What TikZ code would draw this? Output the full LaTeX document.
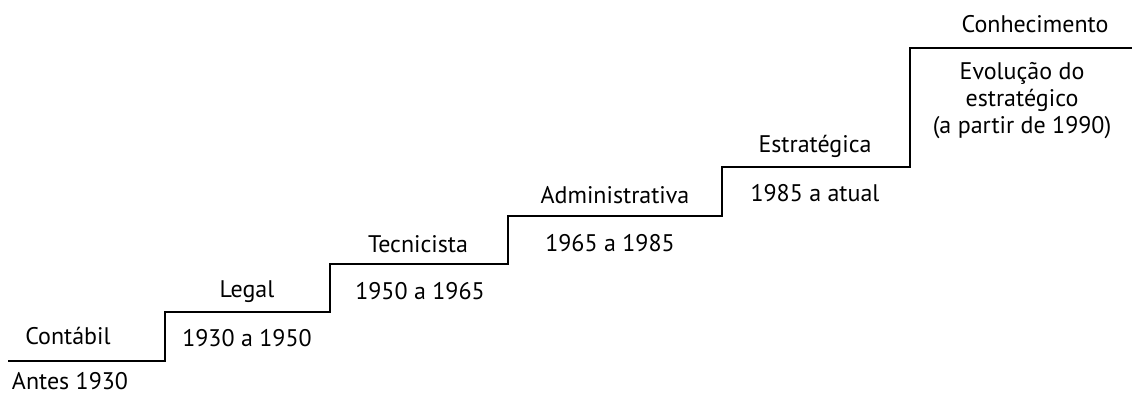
\documentclass[tikz,border=0pt]{standalone}
\usepackage{fontspec}
\setmainfont{PT Sans}
\usepackage{tikz}
\usetikzlibrary{positioning}

\begin{document}
\begin{tikzpicture}[x=1pt, y=-1pt, thick, line width=1.6pt,
		every node/.style={font=\fontsize{24}{27}\selectfont, inner sep=0pt, align=center}]
		\useasboundingbox (0,0) rectangle (1132,399);
		% corners of the steps
		\coordinate (s0) at (8,361);
		\coordinate (s1) at (165,361);
		\coordinate (s2) at (165,312);
		\coordinate (s3) at (330,312);
		\coordinate (s4) at (330,264);
		\coordinate (s5) at (508,264);
		\coordinate (s6) at (508,216);
		\coordinate (s7) at (722,216);
		\coordinate (s8) at (722,167);
		\coordinate (s9) at (910,167);
		\coordinate (s10) at (910,48);
		\coordinate (s11) at (1132,48);
		\draw (s0) -- (s1) -- (s2) -- (s3) -- (s4) -- (s5) -- (s6) -- (s7) -- (s8) -- (s9) -- (s10) -- (s11);
		% labels
		\node (contabil) at (68,336)   {Contábil};
		\node (antes)    at (70,381)   {Antes 1930};
		\node (legal)    at (247,292)  {Legal};
		\node (p1930)    at (247,338)  {1930 a 1950};
		\node (tecn)     at (418,244)  {Tecnicista};
		\node (p1950)    at (420,291)  {1950 a 1965};
		\node (adm)      at (615,195)  {Administrativa};
		\node (p1965)    at (610,243)  {1965 a 1985};
		\node (estr)     at (815,146)  {Estratégica};
		\node (p1985)    at (815,193)  {1985 a atual};
		\node (conh)     at (1035,24)  {Conhecimento};
		\node (evol)     at (1022,101) {Evolução do\\estratégico\\(a partir de 1990)};
\end{tikzpicture}
\end{document}
